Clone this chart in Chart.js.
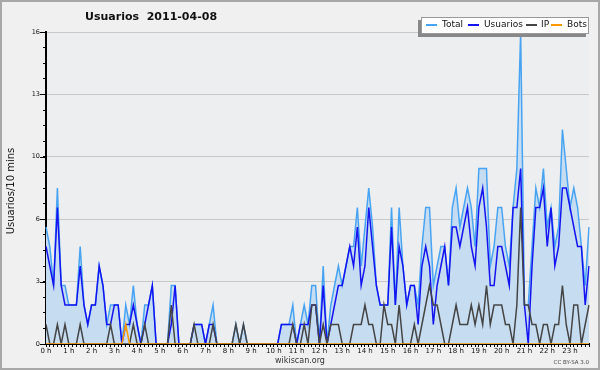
<!DOCTYPE html>
<html lang="es">
<head>
<meta charset="UTF-8">
<title>Usuarios 2011-04-08</title>
<style>
  body { margin: 0; background: #f0f0f0; }
  #wrap { position: relative; width: 600px; height: 370px; font-family: "DejaVu Sans", sans-serif; color: #111; }
  #wrap div, #wrap span { position: absolute; white-space: pre; }
  .title { left: 85px; top: 10px; font-size: 11px; line-height: 13px; font-weight: bold; }
  .ytitle { left: -39px; top: 185px; width: 100px; height: 12px; line-height: 12px; font-size: 10px; text-align: center; transform: rotate(-90deg); }
  .legend { left: 421px; top: 17px; width: 166px; height: 15px; background: #fff; border: 1px solid #999; box-shadow: -3px 3px 0 #888; }
  .key { height: 2px; width: 11px; top: 24px; }
  .lab { top: 19px; font-size: 9px; line-height: 11px; color: #111; }
  .site { left: 250px; top: 356px; width: 100px; text-align: center; font-size: 8px; line-height: 10px; color: #333; }
  .lic { left: 540px; top: 358.5px; width: 49px; text-align: right; font-size: 5.5px; line-height: 7px; color: #444; }
</style>
</head>
<body>
<div id="wrap">
  <canvas id="usersChart" width="600" height="370"></canvas>
  <div class="title">Usuarios  2011-04-08</div>
  <div class="ytitle">Usuarios/10 mins</div>
  <div class="legend"></div>
  <span class="key" style="left:426px;background:#48a4f2"></span><span class="lab" style="left:442px">Total</span>
  <span class="key" style="left:468px;background:#1414f0"></span><span class="lab" style="left:484px">Usuarios</span>
  <span class="key" style="left:526px;background:#454545"></span><span class="lab" style="left:541px">IP</span>
  <span class="key" style="left:551px;background:#ff9900"></span><span class="lab" style="left:567px">Bots</span>
  <div class="site">wikiscan.org</div>
  <div class="lic">CC BY-SA 3.0</div>
</div>

<script src="https://cdn.jsdelivr.net/npm/chart.js"></script>
<script>
// hour labels, one every 6 slots of 10 minutes
const hourLabels = ['0 h', '1 h', '2 h', '3 h', '4 h', '5 h', '6 h', '7 h', '8 h', '9 h', '10 h', '11 h',
    '12 h', '13 h', '14 h', '15 h', '16 h', '17 h', '18 h', '19 h', '20 h', '21 h', '22 h', '23 h'];

// values per 10 minutes, 144 slots (each line = 2 hours)
const totalData = [
    6, 5, 3, 8, 3, 3, 2, 2, 2, 5, 2, 1,
    2, 2, 4, 3, 1, 2, 2, 2, 0, 2, 1, 3,
    1, 0, 2, 2, 3, 0, 0, 0, 0, 3, 3, 0,
    0, 0, 0, 1, 1, 1, 0, 1, 2, 0, 0, 0,
    0, 0, 1, 0, 1, 0, 0, 0, 0, 0, 0, 0,
    0, 0, 1, 1, 1, 2, 0, 1, 2, 1, 3, 3,
    0, 4, 0, 2, 3, 4, 3, 4, 5, 5, 7, 4,
    6, 8, 6, 3, 2, 2, 2, 7, 2, 7, 4, 2,
    3, 3, 2, 5, 7, 7, 3, 4, 5, 5, 3, 7,
    8, 6, 7, 8, 7, 5, 9, 9, 9, 4, 5, 7,
    7, 5, 4, 7, 9, 16, 2, 2, 5, 8, 7, 9,
    6, 7, 5, 6, 11, 9, 7, 8, 7, 5, 3, 6
];
const usuariosData = [
    5, 4, 3, 7, 3, 2, 2, 2, 2, 4, 2, 1,
    2, 2, 4, 3, 1, 1, 2, 2, 0, 1, 1, 2,
    1, 0, 1, 2, 3, 0, 0, 0, 0, 1, 3, 0,
    0, 0, 0, 1, 1, 1, 0, 1, 1, 0, 0, 0,
    0, 0, 0, 0, 0, 0, 0, 0, 0, 0, 0, 0,
    0, 0, 1, 1, 1, 1, 0, 1, 1, 1, 2, 2,
    0, 3, 0, 1, 2, 3, 3, 4, 5, 4, 6, 3,
    4, 7, 5, 3, 2, 2, 2, 6, 2, 5, 4, 2,
    3, 3, 1, 4, 5, 4, 1, 3, 4, 5, 3, 6,
    6, 5, 6, 7, 5, 4, 7, 8, 6, 3, 3, 5,
    5, 4, 3, 7, 7, 9, 2, 0, 4, 7, 7, 8,
    5, 7, 4, 5, 8, 8, 7, 6, 5, 5, 2, 4
];
const ipData = [
    1, 0, 0, 1, 0, 1, 0, 0, 0, 1, 0, 0,
    0, 0, 0, 0, 0, 1, 0, 0, 0, 0, 0, 1,
    0, 0, 1, 0, 0, 0, 0, 0, 0, 2, 0, 0,
    0, 0, 0, 1, 0, 0, 0, 0, 1, 0, 0, 0,
    0, 0, 1, 0, 1, 0, 0, 0, 0, 0, 0, 0,
    0, 0, 0, 0, 0, 1, 0, 0, 1, 0, 2, 2,
    0, 1, 0, 1, 1, 1, 0, 0, 0, 1, 1, 1,
    2, 1, 1, 0, 0, 2, 1, 1, 0, 2, 0, 0,
    0, 1, 0, 1, 2, 3, 2, 2, 1, 0, 0, 1,
    2, 1, 1, 1, 2, 1, 2, 1, 3, 1, 2, 2,
    2, 1, 1, 0, 2, 7, 2, 2, 1, 1, 0, 1,
    1, 0, 1, 1, 3, 1, 0, 2, 2, 0, 1, 2
];
const botsData = [
    0, 0, 0, 0, 0, 0, 0, 0, 0, 0, 0, 0,
    0, 0, 0, 0, 0, 0, 0, 0, 0, 1, 0, 0,
    0, 0, 0, 0, 0, 0, 0, 0, 0, 0, 0, 0,
    0, 0, 0, 0, 0, 0, 0, 0, 0, 0, 0, 0,
    0, 0, 0, 0, 0, 0, 0, 0, 0, 0, 0, 0,
    0, 0, 0, 0, 0, 0, 0, 0, 0, 0, 0, 0,
    0, 0, 0, 0, 0, 0, 0, 0, 0, 0, 0, 0,
    0, 0, 0, 0, 0, 0, 0, 0, 0, 0, 0, 0,
    0, 0, 0, 0, 0, 0, 0, 0, 0, 0, 0, 0,
    0, 0, 0, 0, 0, 0, 0, 0, 0, 0, 0, 0,
    0, 0, 0, 0, 0, 0, 0, 0, 0, 0, 0, 0,
    0, 0, 0, 0, 0, 0, 0, 0, 0, 0, 0, 0
];

// one category per 10 min slot, label only on the hour
const slots = totalData.map((v, i) => (i % 6 === 0 ? hourLabels[i / 6] : ''));

// backgrounds, frame and longer major ticks on the y axis
const decor = {
    id: 'decor',
    beforeDraw(chart) {
        const c = chart.ctx, a = chart.chartArea;
        c.save();
        c.fillStyle = '#f0f0f0';
        c.fillRect(0, 0, chart.width, chart.height);
        c.fillStyle = '#edeef0';
        c.fillRect(a.left, a.top, a.right - a.left, a.bottom - a.top);
        c.restore();
    },
    afterDraw(chart) {
        const c = chart.ctx, a = chart.chartArea, y = chart.scales.y;
        c.save();
        c.strokeStyle = '#000';
        c.lineWidth = 1;
        y.ticks.forEach((t, i) => {
            if (i % 4 !== 0) return;
            const py = Math.round(y.getPixelForValue(t.value)) + 0.5;
            c.beginPath();
            c.moveTo(a.left - 6, py);
            c.lineTo(a.left, py);
            c.stroke();
        });
        c.strokeStyle = '#a8a8a8';
        c.lineWidth = 2;
        c.strokeRect(1, 1, chart.width - 2, chart.height - 2);
        c.restore();
    }
};

const line = (label, data, color, order, extra) => Object.assign({
    label, data, borderColor: color, borderWidth: 1.5,
    pointRadius: 0, tension: 0, fill: false, order
}, extra);

const ctx = document.getElementById('usersChart').getContext('2d');
const usersChart = new Chart(ctx, {
    type: 'line',
    data: {
        labels: slots,
        datasets: [
            line('Total', totalData, '#48a4f2', 4, { fill: 'origin', backgroundColor: '#c6dcf0' }),
            line('Usuarios', usuariosData, '#1414f0', 3),
            line('IP', ipData, '#454545', 2),
            line('Bots', botsData, '#ff9900', 1)
        ]
    },
    options: {
        responsive: false,
        animation: false,
        devicePixelRatio: 1,
        events: [],
        layout: { padding: { top: 32, right: 11, left: 0, bottom: 0 } },
        plugins: { legend: { display: false }, tooltip: { enabled: false } },
        scales: {
            x: {
                z: 1,
                offset: false,
                afterFit: s => { s.height = 26; },
                border: { color: '#000', width: 2 },
                grid: { drawOnChartArea: false, tickLength: 3, tickColor: '#000' },
                ticks: {
                    autoSkip: false, maxRotation: 0, padding: 0,
                    color: '#111', font: { family: 'DejaVu Sans', size: 7 }
                }
            },
            y: {
                z: 1,
                min: 0,
                max: 16,
                afterFit: s => { s.width = 46; },
                border: { color: '#000', width: 2 },
                grid: {
                    color: c => (c.index % 4 === 0 ? '#c8c8c8' : 'rgba(0,0,0,0)'),
                    tickColor: '#000',
                    tickLength: 3
                },
                ticks: {
                    stepSize: 0.8,
                    padding: 3,
                    color: '#111',
                    font: { family: 'DejaVu Sans', size: 6.5 },
                    callback: (v, i) => (i % 4 === 0 ? String(Math.round(v)) : '')
                }
            }
        }
    },
    plugins: [decor]
});
</script>
</body>
</html>
